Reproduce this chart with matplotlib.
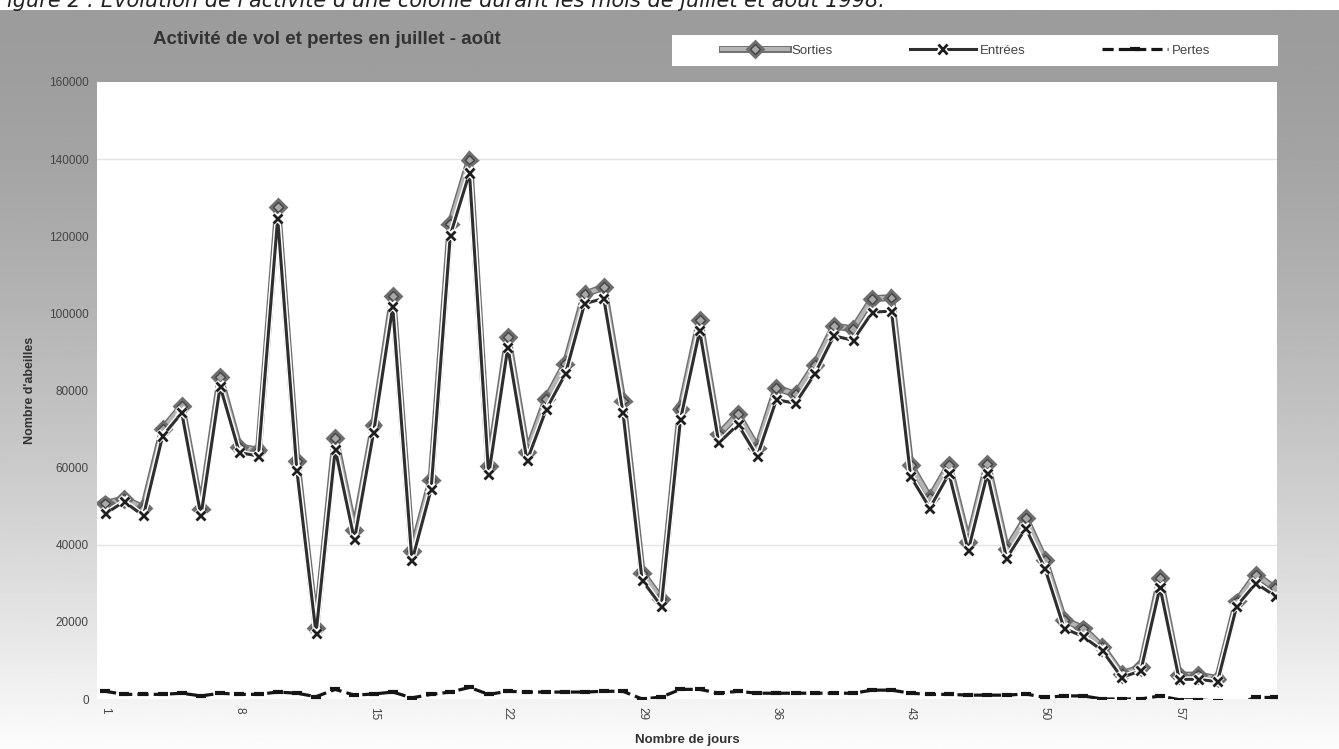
import numpy as np
import matplotlib.pyplot as plt
import matplotlib.patheffects as pe
from matplotlib.patches import Rectangle

plt.rcParams['font.family'] = ['Liberation Sans', 'DejaVu Sans']

# Données journalières (1er juillet -> 31 août)
jours = np.arange(1, 63)

sorties = [50700, 51900, 49600, 70000, 76000, 49400, 83400, 65400, 64500, 127500,
           61800, 18500, 67700, 43800, 71000, 104500, 38300, 56900, 123300, 139900,
           60400, 93900, 64100, 77800, 87000, 105000, 106800, 77400, 32800, 25900,
           75300, 98300, 68600, 73800, 65200, 80700, 79000, 86600, 96700, 96000,
           103800, 104100, 60700, 52100, 60700, 40800, 61000, 38800, 46900, 36100,
           20500, 18300, 13500, 6500, 8200, 31300, 6200, 6200, 5300, 25300,
           32200, 28700]

entrees = [48000, 51200, 47500, 68200, 74200, 47500, 81100, 63900, 63000, 124700,
           59300, 17000, 64800, 41300, 69100, 101700, 35800, 54400, 120300, 136400,
           58100, 91200, 61800, 75100, 84300, 102500, 103900, 74400, 30800, 24100,
           72500, 95500, 66400, 71200, 62900, 77600, 76700, 84300, 94200, 93000,
           100300, 100600, 57700, 49500, 58400, 38500, 58400, 36500, 44300, 33900,
           18300, 16200, 12500, 5600, 7300, 29000, 5100, 5100, 4500, 24100,
           30000, 26700]

pertes = [2000, 1200, 1200, 1200, 1500, 800, 1500, 1200, 1200, 1800,
          1500, 600, 2500, 1000, 1300, 1800, 300, 1200, 1800, 3000,
          1200, 2000, 1800, 1800, 1800, 1800, 2000, 2000, 0, 500,
          2500, 2500, 1500, 2000, 1500, 1500, 1500, 1500, 1500, 1500,
          2300, 2300, 1500, 1200, 1200, 1000, 1000, 1000, 1300, 400,
          800, 800, 0, 0, 0, 800, -200, -200, -600, -1200,
          400, 400]

ticks_x = [1, 8, 15, 22, 29, 36, 43, 50, 57]
ticks_y = np.arange(0, 160001, 20000)

W, H = 1339, 749
fig = plt.figure(figsize=(W / 100, H / 100), dpi=100)
fig.patch.set_facecolor('white')

# fond gris dégradé du graphique
bg = fig.add_axes([0, 0, 1, 1 - 10 / H], zorder=-5)
t = np.linspace(0, 1, 300)[:, None]
grad = 0.61 + 0.38 * t ** 1.5
bg.imshow(np.repeat(grad, 10, axis=1), cmap='gray', vmin=0, vmax=1,
          aspect='auto', extent=[0, 1, 0, 1])
bg.set_axis_off()

# titre de figure du document, en haut de la page
fig.text(-0.004, 1 + 1 / H,
         "Figure 2 : Évolution de l'activité d'une colonie durant les mois de juillet et août 1998.",
         fontsize=15, style='italic', color='#222', va='center', ha='left',
         family='DejaVu Sans')

ax = fig.add_axes([97 / W, 1 - 699 / H, (1277 - 97) / W, (699 - 82) / H])
ax.set_facecolor('white')

halo_s = [pe.Stroke(linewidth=5, foreground='#6e6e6e'), pe.Normal()]
halo_e = [pe.Stroke(linewidth=4.2, foreground='white'), pe.Normal()]

l_s, = ax.plot(jours, sorties, color='#b4b4b4', lw=3, marker='D', ms=5,
               mfc='#a8a8a8', mec='#444444', mew=1, label='Sorties',
               path_effects=halo_s, zorder=3)
l_e, = ax.plot(jours, entrees, color='#2e2e2e', lw=2.2, marker='x', ms=6.5,
               mew=2, mec='#1e1e1e', label='Entrées',
               path_effects=halo_e, zorder=4)
l_p, = ax.plot(jours, pertes, color='#151515', lw=2.3, ls=(0, (3.5, 1.6)),
               marker='_', ms=7, mew=3, label='Pertes', zorder=4)

for g in (40000, 140000):
    ax.axhline(g, color='#e4e4e4', lw=1, zorder=1)

ax.set_xlim(0.58, 62.1)
ax.set_ylim(0, 160000)
ax.set_xticks(ticks_x)
ax.set_xticklabels([str(v) for v in ticks_x], rotation=270, fontsize=8.5, color='#444')
ax.set_yticks(ticks_y)
ax.set_yticklabels([str(v) for v in ticks_y], fontsize=8.5, color='#444')
ax.tick_params(length=0, pad=6)
for s in ax.spines.values():
    s.set_visible(False)

ax.set_xlabel('Nombre de jours', fontsize=9.5, fontweight='bold', color='#333', labelpad=10)
ax.set_ylabel("Nombre d'abeilles", fontsize=9, fontweight='bold', color='#333', labelpad=9)

fig.text(327 / W, 1 - 40 / H, 'Activité de vol et pertes en juillet - août',
         fontsize=13.5, fontweight='bold', color='#333', ha='center', va='center')

# cadre blanc de la légende
fig.patches.append(Rectangle((672 / W, 1 - 66 / H), 606 / W, 31 / H,
                             transform=fig.transFigure, facecolor='white',
                             edgecolor='none', zorder=1))
leg = fig.legend(handles=[l_s, l_e, l_p], ncol=3, numpoints=1,
                 loc='center', bbox_to_anchor=(966 / W, 1 - 50.5 / H),
                 fontsize=9.5, handlelength=5, handletextpad=0.3,
                 columnspacing=5.8, frameon=False)
leg.set_zorder(2)
for txt in leg.get_texts():
    txt.set_color('#444')

fig.savefig('out.png', dpi=100)
